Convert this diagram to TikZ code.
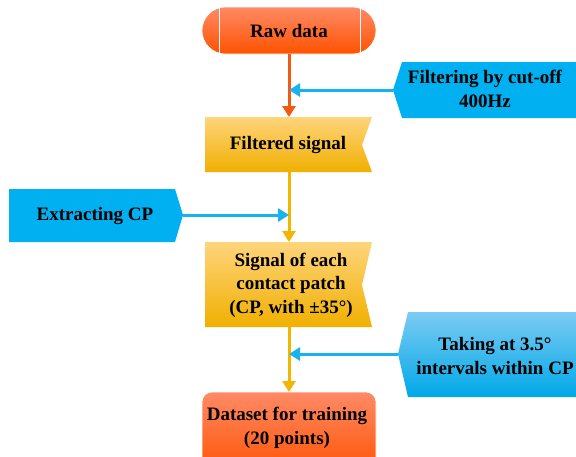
\documentclass[tikz,border=0pt]{standalone}
\usepackage{fontspec}
\setmainfont{Liberation Serif}
\usetikzlibrary{arrows.meta}
\definecolor{cOrA}{HTML}{FF8A66}
\definecolor{cOrB}{HTML}{FF5200}
\definecolor{cOrLine}{HTML}{F25A14}
\definecolor{cGoA}{HTML}{FFD47C}
\definecolor{cGoB}{HTML}{F0B000}
\definecolor{cGoLine}{HTML}{F2B600}
\definecolor{cBl}{HTML}{00B0F0}
\definecolor{cBlA}{HTML}{7CCBF2}
\definecolor{cBlB}{HTML}{00A8E8}
\definecolor{cBlLine}{HTML}{18B2EE}
\tikzset{
  lbl/.style={font=\fontsize{19}{23.5}\selectfont\bfseries, align=center, text=black, inner sep=0pt},
  flow/.style={line width=3pt, -{Triangle[width=13pt,length=11pt]}},
  orflow/.style={flow, draw=cOrLine, color=cOrLine},
  goflow/.style={flow, draw=cGoLine, color=cGoLine},
  blflow/.style={flow, draw=cBlLine, color=cBlLine},
  orshade/.style={top color=cOrA, bottom color=cOrB, draw=white, line width=0.6pt},
  goshade/.style={top color=cGoA, bottom color=cGoB, draw=none},
}
\begin{document}
\begin{tikzpicture}[x=1pt,y=-1pt]
\useasboundingbox (0,0) rectangle (576,456);
\clip (0,0) rectangle (576,456);
% Raw data terminator
\path[orshade, rounded corners=23.5pt] (202,7) rectangle (376,54);
\draw[white, line width=0.8pt] (219,7) -- (219,54) (360,7) -- (360,54);
\node[lbl] (raw) at (289,31) {Raw data};
\coordinate (rawB) at (289,54);
% Filtering box
\path[fill=cBl] (402,62) -- (590,62) -- (590,118) -- (402,118) -- (393,90) -- cycle;
\node[lbl] (filt) at (485,89) {Filtering by cut-off\\400Hz};
\coordinate (filtP) at (393,90);
% Filtered signal
\path[goshade] (205,117) -- (372,117) -- (362,145) -- (372,172) -- (205,172) -- cycle;
\node[lbl] (fsig) at (288,145) {Filtered signal};
\coordinate (fsigT) at (289,117);
\coordinate (fsigB) at (289,172);
\coordinate (m1) at (289,90);
% Extracting CP
\path[fill=cBl] (9,189) -- (175,189) -- (183,215) -- (175,242) -- (9,242) -- cycle;
\node[lbl] (ext) at (95,216) {Extracting CP};
\coordinate (extP) at (183,215);
\coordinate (m2) at (289,215);
% Signal of each contact patch
\path[goshade] (205,242) -- (372,242) -- (362,285) -- (372,327) -- (205,327) -- cycle;
\node[lbl] (sig) at (291,285) {Signal of each\\contact patch\\(CP, with ±35°)};
\coordinate (sigT) at (289,242);
\coordinate (sigB) at (289,327);
% Taking box
\path[top color=cBlA, bottom color=cBlB] (408,312) -- (590,312) -- (590,397) -- (408,397) -- (398,354) -- cycle;
\node[lbl] (take) at (495,356) {Taking at 3.5°\\intervals within CP};
\coordinate (takeP) at (398,354);
\coordinate (m3) at (289,354);
% Dataset
\path[orshade, rounded corners=10pt] (202,392) rectangle (376,475);
\node[lbl] (data) at (287,428) {Dataset for training\\(20 points)};
\coordinate (dataT) at (289,392);
% connectors
\draw[orflow] (rawB) -- (fsigT);
\draw[goflow] (fsigB) -- (sigT);
\draw[goflow] (sigB) -- (dataT);
\draw[blflow] (filtP) -- (m1);
\draw[blflow] (extP) -- (m2);
\draw[blflow] (takeP) -- (m3);
\end{tikzpicture}
\end{document}
